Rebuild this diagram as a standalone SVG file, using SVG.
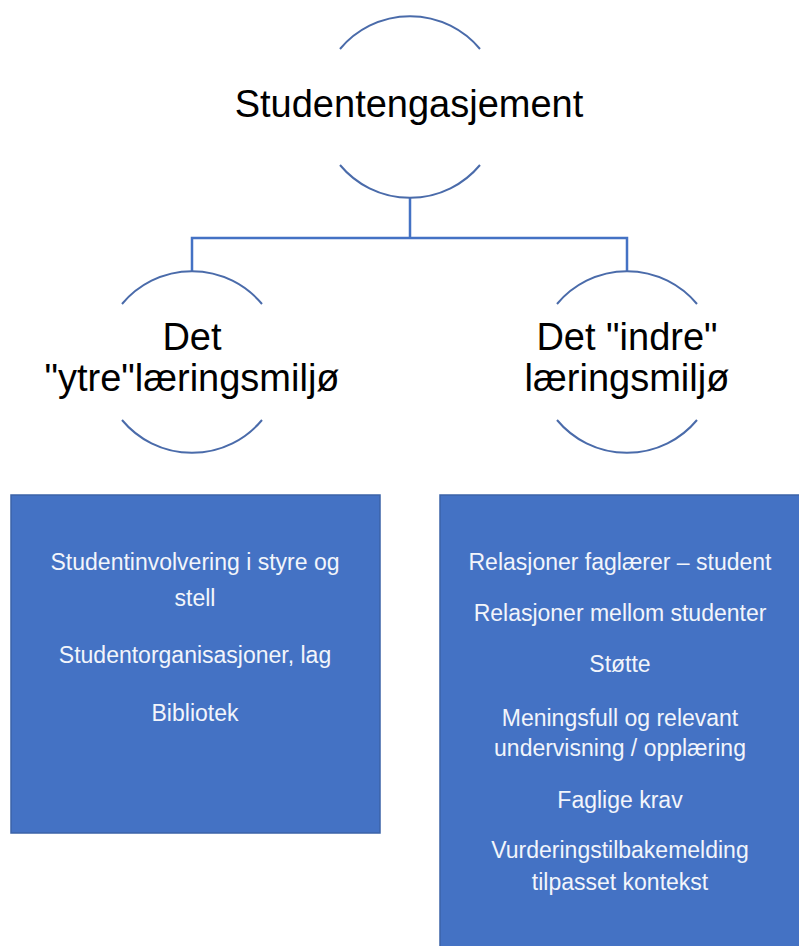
<svg xmlns="http://www.w3.org/2000/svg" width="799" height="946" viewBox="0 0 799 946">
<style>
.arc{fill:none;stroke:#4A6BAA;stroke-width:2}
.conn{fill:none;stroke:#4472C4;stroke-width:2.5}
.lbl{font-family:"Liberation Sans",Arial,sans-serif;font-size:38px;fill:#000;text-anchor:middle}
.box{fill:#4472C4;stroke:#3B63A8;stroke-width:1.5}
.bt{font-family:"Liberation Sans",Arial,sans-serif;font-size:23px;fill:#F2F5FB;text-anchor:middle}
</style>
<rect width="799" height="946" fill="#fff"/>
<g id="connectors">
<path class="conn" d="M410 198 V238 M192 271 V238 H627 V271"/>
</g>
<g id="node-root">
<path class="arc" d="M340 49 A91 91 0 0 1 480 49"/>
<path class="arc" d="M340 165 A91 91 0 0 0 480 165"/>
<text class="lbl" x="409" y="117">Studentengasjement</text>
</g>
<g id="node-ytre">
<path class="arc" d="M122 304 A91 91 0 0 1 262 304"/>
<path class="arc" d="M122 420 A91 91 0 0 0 262 420"/>
<text class="lbl" x="192" y="350">Det</text>
<text class="lbl" x="192" y="391">"ytre"læringsmiljø</text>
</g>
<g id="node-indre">
<path class="arc" d="M557 304 A91 91 0 0 1 697 304"/>
<path class="arc" d="M557 420 A91 91 0 0 0 697 420"/>
<text class="lbl" x="627" y="350">Det "indre"</text>
<text class="lbl" x="627" y="391">læringsmiljø</text>
</g>
<g id="box-ytre">
<rect class="box" x="11" y="495" width="369" height="338"/>
<text class="bt" x="195" y="570">Studentinvolvering i styre og</text>
<text class="bt" x="195" y="606">stell</text>
<text class="bt" x="195" y="663">Studentorganisasjoner, lag</text>
<text class="bt" x="195" y="721">Bibliotek</text>
</g>
<g id="box-indre">
<rect class="box" x="440" y="495" width="370" height="460"/>
<text class="bt" x="620" y="570">Relasjoner faglærer – student</text>
<text class="bt" x="620" y="621">Relasjoner mellom studenter</text>
<text class="bt" x="620" y="672">Støtte</text>
<text class="bt" x="620" y="726">Meningsfull og relevant</text>
<text class="bt" x="620" y="756">undervisning / opplæring</text>
<text class="bt" x="620" y="808">Faglige krav</text>
<text class="bt" x="620" y="858">Vurderingstilbakemelding</text>
<text class="bt" x="620" y="890">tilpasset kontekst</text>
</g>
</svg>
